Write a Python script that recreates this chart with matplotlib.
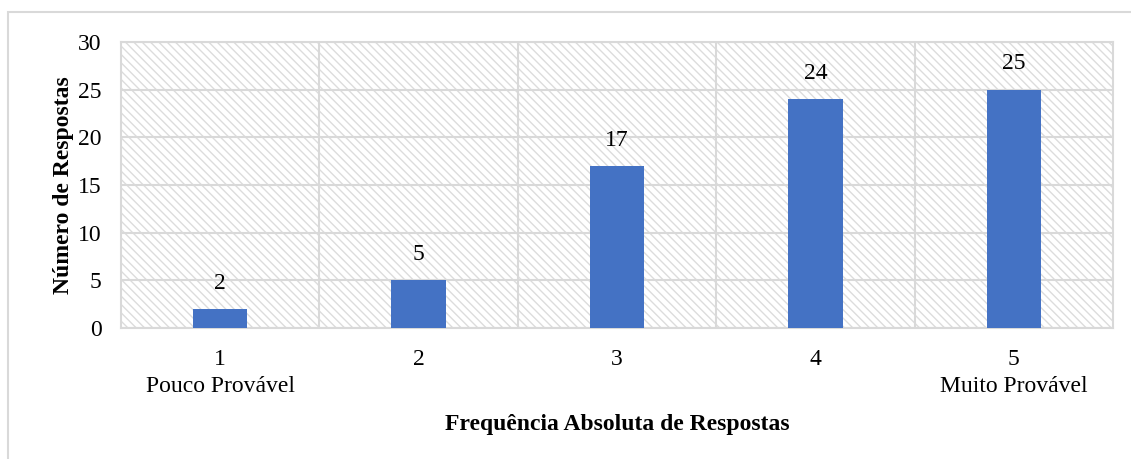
import matplotlib as mpl
import matplotlib.pyplot as plt
from matplotlib.patches import Rectangle

categories = ["1\nPouco Provável", "2", "3", "4", "5\nMuito Provável"]
respostas = [2, 5, 17, 24, 25]
y_ticks = [0, 5, 10, 15, 20, 25, 30]

mpl.rcParams['font.family'] = ['Liberation Serif', 'DejaVu Serif']
mpl.rcParams['hatch.linewidth'] = 1.0

grid_color = '#d9d9d9'
bar_color = '#4472C4'
fs = 17

fig = plt.figure(figsize=(11.31, 4.59), dpi=100)
ax = fig.add_axes([121 / 1131, 1 - 328 / 459, (1113 - 121) / 1131, (328 - 42) / 459])

# outer light border of the chart area
fig.patches.append(Rectangle((8 / 1131, -0.1), 1.2, 1.1 - 12 / 459, transform=fig.transFigure,
                             fill=False, edgecolor=grid_color, lw=1.5))

# hatched plot background
ax.add_patch(Rectangle((0, 0), 1, 1, transform=ax.transAxes, facecolor='white',
                       edgecolor='#dcdcdc', hatch='\\\\\\\\', lw=0, zorder=0))

x = list(range(1, len(respostas) + 1))
bars = ax.bar(x, respostas, width=0.275, color=bar_color, zorder=3)
for xi, v in zip(x, respostas):
    ax.text(xi, v + 1.6, str(v), ha='center', va='bottom', fontsize=fs, zorder=4)

ax.set_xlim(0.5, 5.5)
ax.set_ylim(0, 30)
ax.set_yticks(y_ticks)
ax.set_xticks(x)
ax.set_xticklabels(categories, fontsize=fs, linespacing=1.4)
ax.tick_params(axis='y', labelsize=fs, length=0, pad=14)
ax.tick_params(axis='x', length=0, pad=15)

for b in [1.5, 2.5, 3.5, 4.5]:
    ax.axvline(b, color=grid_color, lw=1.5, zorder=1)
ax.yaxis.grid(True, color=grid_color, lw=1.5, zorder=1)
ax.set_axisbelow(True)
for s in ax.spines.values():
    s.set_color(grid_color)
    s.set_linewidth(1.5)

ax.set_ylabel("Número de Respostas", fontsize=fs, fontweight='bold', labelpad=3)
ax.set_xlabel("Frequência Absoluta de Respostas", fontsize=fs, fontweight='bold', labelpad=12)

fig.savefig("out.png", dpi=100)
